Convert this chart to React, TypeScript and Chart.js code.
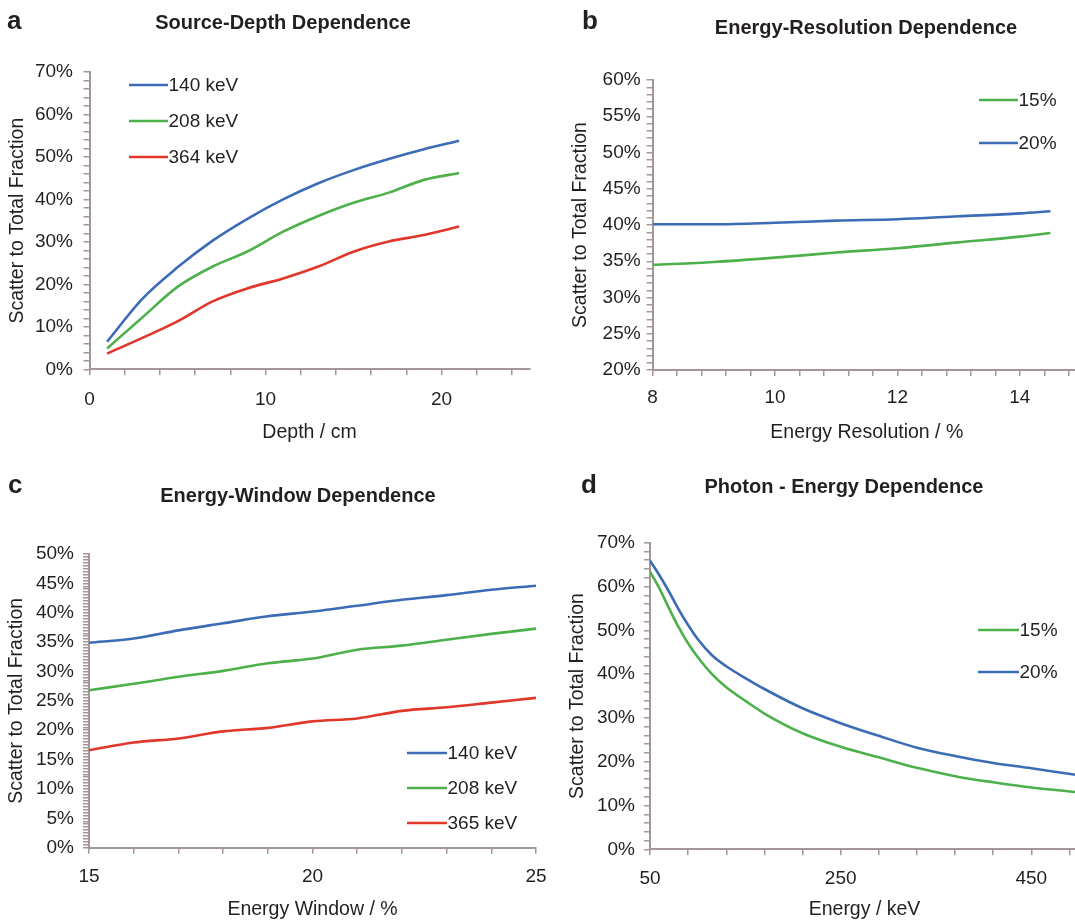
import React, { useEffect, useRef } from "react";
import { Chart, registerables } from "chart.js";

Chart.register(...registerables);

const FONT = "'Liberation Sans', Arial, Helvetica, sans-serif";
const TEXT = "#231f20";
const AXIS = "#a39798";
const BLUE = "#3b6cb5";
const GREEN = "#4db04a";
const RED = "#e0372a";

// ---------- Panel a: Source-Depth Dependence ----------
const depthCm = [1, 3, 5, 7, 9, 11, 13, 15, 17, 19, 21];
const depth140 = [6.5, 16.6, 24.0, 30.3, 35.5, 40.0, 43.8, 46.9, 49.5, 51.8, 53.8];
const depth208 = [4.9, 12.2, 19.4, 24.2, 27.8, 32.4, 36.1, 39.2, 41.6, 44.6, 46.2];
const depth364 = [3.7, 7.4, 11.3, 16.0, 19.1, 21.4, 24.2, 27.7, 30.1, 31.6, 33.6];
const depthXLabels = [0, 10, 20];
const depthYLabels = [0, 10, 20, 30, 40, 50, 60, 70];

// ---------- Panel b: Energy-Resolution Dependence ----------
const resolutionPct = [8, 9, 10, 11, 12, 13, 14, 14.5];
const resolution15 = [34.5, 34.9, 35.5, 36.2, 36.8, 37.6, 38.4, 38.9];
const resolution20 = [40.1, 40.1, 40.3, 40.6, 40.8, 41.2, 41.6, 41.9];
const resolutionXLabels = [8, 10, 12, 14];
const resolutionYLabels = [20, 25, 30, 35, 40, 45, 50, 55, 60];

// ---------- Panel c: Energy-Window Dependence ----------
const windowPct = [15, 16, 17, 18, 19, 20, 21, 22, 23, 24, 25];
const window140 = [34.9, 35.6, 37.0, 38.2, 39.4, 40.2, 41.2, 42.2, 43.0, 43.9, 44.6];
const window208 = [26.8, 27.9, 29.1, 30.1, 31.4, 32.2, 33.7, 34.4, 35.4, 36.4, 37.3];
const window365 = [16.6, 17.9, 18.6, 19.8, 20.4, 21.5, 22.0, 23.3, 23.9, 24.7, 25.5];
const windowXLabels = [15, 20, 25];
const windowYLabels = [0, 5, 10, 15, 20, 25, 30, 35, 40, 45, 50];

// ---------- Panel d: Photon - Energy Dependence ----------
const energyKeV = [50, 60, 70, 80, 90, 100, 115, 130, 150, 170, 210, 250, 290, 330, 370, 410, 450, 500];
const energy15 = [63.4, 59.5, 55.0, 50.7, 47.0, 43.9, 40.0, 37.0, 33.9, 31.0, 26.5, 23.4, 21.0, 18.6, 16.7, 15.3, 14.1, 13.0];
const energy20 = [65.9, 62.5, 58.8, 54.8, 51.2, 48.0, 44.3, 41.8, 39.1, 36.6, 32.2, 28.8, 25.9, 23.2, 21.3, 19.7, 18.5, 16.9];
const energyXLabels = [50, 250, 450];
const energyYLabels = [0, 10, 20, 30, 40, 50, 60, 70];

type Series = { label: string; xs: number[]; ys: number[]; color: string };

type Panel = {
  letter: string;
  title: string;
  letterPos: { left: number; top: number };
  titlePos: { cx: number; top: number };
  canvas: { left: number; top: number; w: number; h: number };
  series: Series[];
  x: { min: number; max: number; step: number; labels: number[]; title: string };
  y: { min: number; max: number; step: number; labels: number[]; title: string };
  geom: {
    yAxisWidth: number;
    xAxisHeight: number;
    padTop: number;
    padRight: number;
    yTitlePad: number;
    yTickPad: number;
    xTickPad: number;
    xTitlePad: number;
  };
  legend: { x1: number; x2: number; ys: number[] };
};

const panels: Panel[] = [
  {
    letter: "a",
    title: "Source-Depth Dependence",
    letterPos: { left: 7, top: 7 },
    titlePos: { cx: 283, top: 10 },
    canvas: { left: 0, top: 0, w: 540, h: 460 },
    series: [
      { label: "140 keV", xs: depthCm, ys: depth140, color: BLUE },
      { label: "208 keV", xs: depthCm, ys: depth208, color: GREEN },
      { label: "364 keV", xs: depthCm, ys: depth364, color: RED },
    ],
    x: { min: 0, max: 25, step: 2, labels: depthXLabels, title: "Depth / cm" },
    y: { min: 0, max: 70, step: 2, labels: depthYLabels, title: "Scatter to Total Fraction" },
    geom: { yAxisWidth: 89.5, xAxisHeight: 90.7, padTop: 72, padRight: 10.5, yTitlePad: 5.5, yTickPad: 10.5, xTickPad: 13.3, xTitlePad: 15.3 },
    legend: { x1: 129, x2: 168, ys: [85, 121, 157] },
  },
  {
    letter: "b",
    title: "Energy-Resolution Dependence",
    letterPos: { left: 582, top: 7 },
    titlePos: { cx: 866, top: 15 },
    canvas: { left: 540, top: 0, w: 560, h: 460 },
    series: [
      { label: "15%", xs: resolutionPct, ys: resolution15, color: GREEN },
      { label: "20%", xs: resolutionPct, ys: resolution20, color: BLUE },
    ],
    x: { min: 8, max: 15, step: 0.4, labels: resolutionXLabels, title: "Energy Resolution / %" },
    y: { min: 20, max: 60, step: 1, labels: resolutionYLabels, title: "Scatter to Total Fraction" },
    geom: { yAxisWidth: 112.6, xAxisHeight: 90, padTop: 80, padRight: 19, yTitlePad: 29.3, yTickPad: 6, xTickPad: 10.6, xTitlePad: 15.3 },
    legend: { x1: 439, x2: 478, ys: [100, 143] },
  },
  {
    letter: "c",
    title: "Energy-Window Dependence",
    letterPos: { left: 8, top: 471 },
    titlePos: { cx: 298, top: 483 },
    canvas: { left: 0, top: 460, w: 560, h: 480 },
    series: [
      { label: "140 keV", xs: windowPct, ys: window140, color: BLUE },
      { label: "208 keV", xs: windowPct, ys: window208, color: GREEN },
      { label: "365 keV", xs: windowPct, ys: window365, color: RED },
    ],
    x: { min: 15, max: 25, step: 1, labels: windowXLabels, title: "Energy Window / %" },
    y: { min: 0, max: 50, step: 0.5, labels: windowYLabels, title: "Scatter to Total Fraction" },
    geom: { yAxisWidth: 89, xAxisHeight: 92.3, padTop: 94, padRight: 24, yTitlePad: 5.3, yTickPad: 9, xTickPad: 11.6, xTitlePad: 18.3 },
    legend: { x1: 407, x2: 447, ys: [293, 328, 363] },
  },
  {
    letter: "d",
    title: "Photon - Energy Dependence",
    letterPos: { left: 581, top: 471 },
    titlePos: { cx: 844, top: 474 },
    canvas: { left: 540, top: 460, w: 560, h: 480 },
    series: [
      { label: "15%", xs: energyKeV, ys: energy15, color: GREEN },
      { label: "20%", xs: energyKeV, ys: energy20, color: BLUE },
    ],
    x: { min: 50, max: 500, step: 40, labels: energyXLabels, title: "Energy / keV" },
    y: { min: 0, max: 70, step: 2, labels: energyYLabels, title: "Scatter to Total Fraction" },
    geom: { yAxisWidth: 110, xAxisHeight: 90.7, padTop: 82.7, padRight: 21, yTitlePad: 25.8, yTickPad: 9, xTickPad: 11.6, xTitlePad: 18.3 },
    legend: { x1: 438, x2: 479, ys: [170, 212] },
  },
];

function stepTicks(min: number, max: number, step: number): number[] {
  const out: number[] = [];
  const n = Math.floor((max - min) / step + 1e-9);
  for (let i = 0; i <= n; i++) out.push(+(min + i * step).toFixed(6));
  return out;
}

function isLabel(labels: number[], v: number) {
  return labels.some((l) => Math.abs(l - v) < 1e-6);
}

function makeConfig(p: Panel): any {
  const legendPlugin = {
    id: "panelLegend",
    afterDatasetsDraw(chart: any) {
      const ctx = chart.ctx as CanvasRenderingContext2D;
      ctx.save();
      chart.data.datasets.forEach((ds: any, i: number) => {
        const y = p.legend.ys[i];
        ctx.strokeStyle = ds.borderColor;
        ctx.lineWidth = 2.5;
        ctx.beginPath();
        ctx.moveTo(p.legend.x1, y);
        ctx.lineTo(p.legend.x2, y);
        ctx.stroke();
        ctx.fillStyle = TEXT;
        ctx.font = `19px ${FONT}`;
        ctx.textAlign = "left";
        ctx.textBaseline = "middle";
        ctx.fillText(ds.label, p.legend.x2 + 0.5, y + 0.5);
      });
      ctx.restore();
    },
  };

  const gridOpts = {
    display: true,
    drawOnChartArea: false,
    drawTicks: true,
    tickLength: 6,
    color: AXIS,
    lineWidth: 1.5,
  };
  const borderOpts = { display: true, color: AXIS, width: 2 };

  return {
    type: "line",
    data: {
      datasets: p.series.map((s) => ({
        label: s.label,
        data: s.xs.map((x, i) => ({ x, y: s.ys[i] })),
        borderColor: s.color,
        backgroundColor: s.color,
        borderWidth: 2.6,
        pointRadius: 0,
        pointHoverRadius: 0,
        fill: false,
        cubicInterpolationMode: "monotone",
      })),
    },
    options: {
      animation: false,
      responsive: false,
      maintainAspectRatio: false,
      events: [],
      layout: { padding: { left: 0, top: p.geom.padTop, right: p.geom.padRight, bottom: 0 } },
      plugins: {
        legend: { display: false },
        tooltip: { enabled: false },
        title: { display: false },
      },
      scales: {
        x: {
          type: "linear",
          min: p.x.min,
          max: p.x.max,
          grid: gridOpts,
          border: borderOpts,
          afterBuildTicks: (scale: any) => {
            scale.ticks = stepTicks(p.x.min, p.x.max, p.x.step).map((value) => ({ value }));
          },
          afterFit: (scale: any) => {
            scale.height = p.geom.xAxisHeight;
          },
          ticks: {
            autoSkip: false,
            maxRotation: 0,
            minRotation: 0,
            padding: p.geom.xTickPad,
            color: TEXT,
            font: { family: FONT, size: 19 },
            callback: (v: any) => (isLabel(p.x.labels, Number(v)) ? String(v) : ""),
          },
          title: {
            display: true,
            text: p.x.title,
            color: TEXT,
            font: { family: FONT, size: 19.5 },
            padding: { top: 0, bottom: p.geom.xTitlePad },
          },
        },
        y: {
          type: "linear",
          min: p.y.min,
          max: p.y.max,
          grid: gridOpts,
          border: borderOpts,
          afterBuildTicks: (scale: any) => {
            scale.ticks = stepTicks(p.y.min, p.y.max, p.y.step).map((value) => ({ value }));
          },
          afterFit: (scale: any) => {
            scale.width = p.geom.yAxisWidth;
          },
          ticks: {
            autoSkip: false,
            padding: p.geom.yTickPad,
            color: TEXT,
            font: { family: FONT, size: 19 },
            callback: (v: any) => (isLabel(p.y.labels, Number(v)) ? `${v}%` : ""),
          },
          title: {
            display: true,
            text: p.y.title,
            color: TEXT,
            font: { family: FONT, size: 19.5 },
            padding: { top: p.geom.yTitlePad, bottom: 0 },
          },
        },
      },
    },
    plugins: [legendPlugin],
  };
}

function PanelChart({ panel }: { panel: Panel }) {
  const ref = useRef<HTMLCanvasElement | null>(null);
  useEffect(() => {
    if (!ref.current) return;
    const chart = new Chart(ref.current, makeConfig(panel));
    return () => chart.destroy();
  }, [panel]);
  return (
    <canvas
      ref={ref}
      width={panel.canvas.w}
      height={panel.canvas.h}
      style={{
        position: "absolute",
        left: panel.canvas.left,
        top: panel.canvas.top,
        width: panel.canvas.w,
        height: panel.canvas.h,
      }}
    />
  );
}

export default function App() {
  return (
    <div
      style={{
        position: "fixed",
        left: 0,
        top: 0,
        width: 1075,
        height: 920,
        overflow: "hidden",
        background: "#ffffff",
        fontFamily: FONT,
        color: TEXT,
      }}
    >
      {panels.map((p) => (
        <PanelChart key={p.letter} panel={p} />
      ))}
      {panels.map((p) => (
        <React.Fragment key={"t" + p.letter}>
          <div
            style={{
              position: "absolute",
              left: p.letterPos.left,
              top: p.letterPos.top,
              fontSize: 26,
              lineHeight: "26px",
              fontWeight: 700,
              whiteSpace: "nowrap",
            }}
          >
            {p.letter}
          </div>
          <div
            style={{
              position: "absolute",
              left: p.titlePos.cx - 250,
              width: 500,
              top: p.titlePos.top,
              textAlign: "center",
              fontSize: 20,
              lineHeight: "24px",
              fontWeight: 700,
              whiteSpace: "nowrap",
            }}
          >
            {p.title}
          </div>
        </React.Fragment>
      ))}
    </div>
  );
}
